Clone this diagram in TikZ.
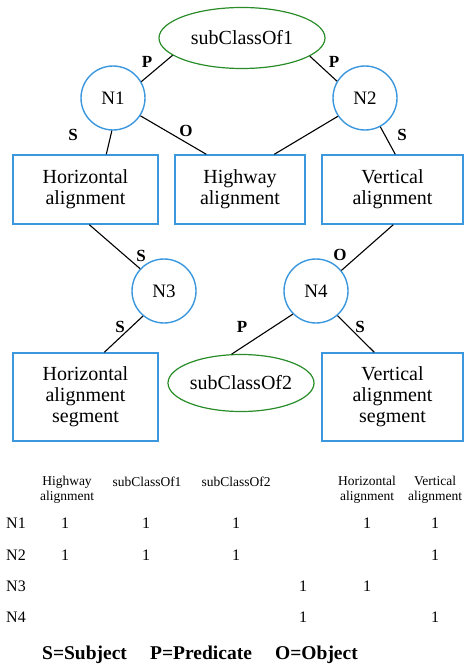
\documentclass[tikz,border=0pt]{standalone}
\usepackage{fontspec}
\setmainfont{Liberation Serif}
\usetikzlibrary{shapes.geometric,calc}
\definecolor{nodeblue}{RGB}{59,151,222}
\definecolor{ellgreen}{RGB}{40,140,40}
\begin{document}
\begin{tikzpicture}[x=1pt,y=-1pt,
  box/.style={draw=nodeblue,line width=1.4pt,minimum width=#1,minimum height=69pt,inner sep=0pt,align=center,font=\fontsize{20}{21}\selectfont},
  circ/.style={circle,draw=nodeblue,line width=1.4pt,minimum size=64pt,inner sep=0pt,font=\fontsize{19}{19}\selectfont},
  ell/.style={ellipse,draw=ellgreen,line width=1.2pt,inner sep=0pt,font=\fontsize{20}{20}\selectfont},
  lbl/.style={font=\bfseries\fontsize{17}{17}\selectfont,inner sep=0pt},
  conn/.style={line width=1.1pt,black},
  hdr/.style={font=\fontsize{13.5}{15}\selectfont,align=center,inner sep=0pt},
  val/.style={font=\fontsize{16}{16}\selectfont,inner sep=0pt},
  foot/.style={font=\bfseries\fontsize{19.5}{20}\selectfont,inner sep=0pt,anchor=base west}]
\useasboundingbox (0,0) rectangle (464,666);
% graph nodes
\node[ell,minimum width=166pt,minimum height=61pt] (E1) at (242,38) {subClassOf1};
\node[circ] (N1) at (113,98) {N1};
\node[circ] (N2) at (365,98) {N2};
\node[box=145pt] (HA) at (85.5,189.5) {Horizontal\\alignment};
\node[box=130pt] (HW) at (240,189.5) {Highway\\alignment};
\node[box=141pt] (VA) at (392.5,189.5) {Vertical\\alignment};
\node[circ] (N3) at (164,291) {N3};
\node[circ] (N4) at (316,291) {N4};
\node[box=145pt,minimum height=88pt] (HAS) at (85.5,397) {Horizontal\\alignment\\segment};
\node[ell,minimum width=146pt,minimum height=57pt] (E2) at (241,383) {subClassOf2};
\node[box=141pt,minimum height=88pt] (VAS) at (392.5,397) {Vertical\\alignment\\segment};
% connectors
\draw[conn] (E1.194) -- (N1.30);
\draw[conn] (E1.345) -- (N2.149);
\draw[conn] (N1.268) -- ($(HA.north west)+(94,0)$);
\draw[conn] (N1.327) -- ($(HW.north west)+(32,0)$);
\draw[conn] (N2.214) -- ($(HW.north west)+(100,0)$);
\draw[conn] (N2.298) -- ($(VA.north west)+(74,0)$);
\draw[conn] ($(HA.south west)+(77,0)$) -- (N3.137);
\draw[conn] ($(VA.south west)+(72,0)$) -- (N4.39);
\draw[conn] (N3.230) -- ($(HAS.north west)+(92,0)$);
\draw[conn] (N4.225) -- (E2.108);
\draw[conn] (N4.311) -- ($(VAS.north west)+(53,0)$);
% edge labels
\node[lbl] (l1) at (147,62) {P};
\node[lbl] (l2) at (334,62) {P};
\node[lbl] (l3) at (73,135) {S};
\node[lbl] (l4) at (186,131) {O};
\node[lbl] (l5) at (402,135) {S};
\node[lbl] (l6) at (141,256) {S};
\node[lbl] (l7) at (340,255) {O};
\node[lbl] (l8) at (120,327) {S};
\node[lbl] (l9) at (242,327) {P};
\node[lbl] (l10) at (360,327) {S};
% table header
\node[hdr] (t1) at (67,489.5) {Highway\\alignment};
\node[hdr] (t2) at (147,482) {subClassOf1};
\node[hdr] (t3) at (236,482) {subClassOf2};
\node[hdr] (t5) at (367,489.5) {Horizontal\\alignment};
\node[hdr] (t6) at (435,489.5) {Vertical\\alignment};
% row labels
\node[val] (r1) at (16,523) {N1};
\node[val] (r2) at (16,555) {N2};
\node[val] (r3) at (16,586) {N3};
\node[val] (r4) at (16,617) {N4};
% values
\node[val] (v11) at (65,523) {1};
\node[val] (v12) at (146,523) {1};
\node[val] (v13) at (236,523) {1};
\node[val] (v15) at (367,523) {1};
\node[val] (v16) at (435,523) {1};
\node[val] (v21) at (65,555) {1};
\node[val] (v22) at (146,555) {1};
\node[val] (v23) at (236,555) {1};
\node[val] (v26) at (435,555) {1};
\node[val] (v34) at (303,586) {1};
\node[val] (v35) at (367,586) {1};
\node[val] (v44) at (303,617) {1};
\node[val] (v46) at (435,617) {1};
% footer
\node[foot] (f1) at (42,659) {S=Subject};
\node[foot] (f2) at (150,659) {P=Predicate};
\node[foot] (f3) at (275,659) {O=Object};
\end{tikzpicture}
\end{document}
